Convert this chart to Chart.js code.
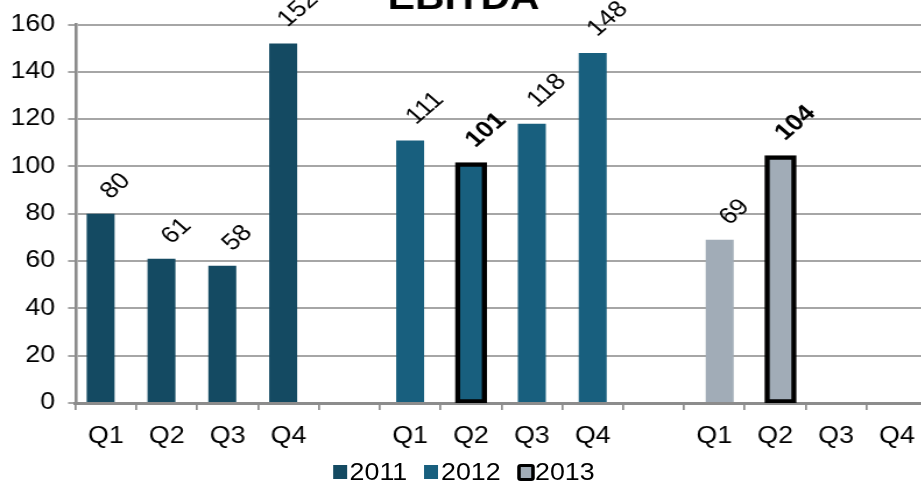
<!DOCTYPE html>
<html>
<head>
<meta charset="utf-8">
<title>EBITDA</title>
<script src="https://cdn.jsdelivr.net/npm/chart.js@4.4.1/dist/chart.umd.min.js"></script>
<style>
  html, body { margin: 0; padding: 0; background: #fff; overflow: hidden; width: 921px; height: 483px; }
  /* source picture is stretched horizontally, so the whole drawing is stretched too */
  #wrap { position: absolute; left: 0; top: -30px; width: 803px; height: 513px; transform: scaleX(1.165); transform-origin: 0 0; }
  #chart { position: absolute; left: 0; top: 0; }
  #legend { position: absolute; left: 0; top: 488px; width: 796px; display: flex; justify-content: center; align-items: center;
            font: 23px 'Liberation Sans', Arial, sans-serif; line-height: 28px; color: #000; }
  .item { display: flex; align-items: center; margin-left: 14.5px; }
  .item:first-child { margin-left: 0; }
  .box { width: 12px; height: 14px; margin-right: 2.5px; box-sizing: border-box; }
  .box.outlined { width: 14.5px; height: 17px; border: 3px solid #000; border-radius: 3px; margin-right: 0.5px; }
</style>
</head>
<body>
<div id="wrap">
  <canvas id="chart" width="803" height="491"></canvas>
  <div id="legend"></div>
</div>
<script>
// data
const quarters = ['Q1', 'Q2', 'Q3', 'Q4'];
const years = ['2011', '2012', '2013'];
const ebitda2011 = [80, 61, 58, 152];
const ebitda2012 = [111, 101, 118, 148];
const ebitda2013 = [69, 104, null, null];
const yTicks = [0, 20, 40, 60, 80, 100, 120, 140, 160];
// quarter drawn with the heavy black outline and bold label, per year
const outlinedQuarter = { '2012': 1, '2013': 1 };

const seriesValues = [ebitda2011, ebitda2012, ebitda2013];
const seriesColors = ['#144a62', '#185f7e', '#a1acb7'];
const fontFamily = "'Liberation Sans', Arial, sans-serif";
const stretch = 1.165;

// each year takes 4 quarter slots plus one empty slot
var categories = [];
years.forEach(function (y, yi) {
    quarters.forEach(function (q) { categories.push(q); });
    if (yi < years.length - 1) categories.push('');
});

function spread(vals, yi) {
    var out = categories.map(function () { return null; });
    vals.forEach(function (v, q) { out[yi * 5 + q] = v; });
    return out;
}

function isOutlined(di, index) {
    var q = outlinedQuarter[years[di]];
    return q !== undefined && index === di * 5 + q;
}

var datasets = years.map(function (y, di) {
    return {
        label: y,
        data: spread(seriesValues[di], di),
        backgroundColor: seriesColors[di],
        borderColor: '#000',
        borderSkipped: false,
        borderWidth: function (c) { return isOutlined(di, c.dataIndex) ? 4.5 : 0; },
        inflateAmount: function (c) { return isOutlined(di, c.dataIndex) ? 1.8 : 0; }
    };
});

// rotated value labels above bars
var barLabels = {
    id: 'barLabels',
    afterDatasetsDraw: function (chart) {
        var ctx = chart.ctx;
        chart.data.datasets.forEach(function (ds, di) {
            var meta = chart.getDatasetMeta(di);
            meta.data.forEach(function (bar, i) {
                var v = ds.data[i];
                if (v === null || v === undefined) return;
                var txt = String(v);
                ctx.save();
                ctx.font = (isOutlined(di, i) ? 'bold ' : '') + '23px ' + fontFamily;
                var w = ctx.measureText(txt).width * stretch;
                var cx = bar.x + 15 / stretch;
                var cy = bar.y - (15 + w * 0.42);
                ctx.translate(cx, cy);
                ctx.rotate(-Math.PI / 4);
                ctx.textAlign = 'center';
                ctx.textBaseline = 'middle';
                ctx.fillStyle = '#000';
                ctx.fillText(txt, 0, 0);
                ctx.restore();
            });
        });
    }
};

var ctx = document.getElementById('chart');
var chart = new Chart(ctx, {
    type: 'bar',
    data: { labels: categories, datasets: datasets },
    options: {
        responsive: false,
        animation: false,
        devicePixelRatio: 1,
        categoryPercentage: 0.2615,
        barPercentage: 5.27,
        layout: { padding: { left: 0, right: 7, top: 0, bottom: 0 } },
        plugins: {
            legend: { display: false },
            tooltip: { enabled: false },
            title: {
                display: true,
                text: 'EBITDA',
                color: '#000',
                font: { family: fontFamily, size: 35, weight: 'bold' },
                padding: { top: 8.5, bottom: 4 }
            }
        },
        scales: {
            x: {
                grid: { drawOnChartArea: false, drawTicks: true, tickLength: 7, color: '#8c8c8c', lineWidth: 1.7, offset: true },
                border: { color: '#8c8c8c', width: 3 },
                ticks: { color: '#000', font: { family: fontFamily, size: 23 }, padding: 12.5, maxRotation: 0, autoSkip: false },
                afterFit: function (s) { s.height = 58; }
            },
            y: {
                min: yTicks[0],
                max: yTicks[yTicks.length - 1],
                afterBuildTicks: function (s) { s.ticks = yTicks.map(function (v) { return { value: v }; }); },
                ticks: { color: '#000', font: { family: fontFamily, size: 23 }, padding: 11 },
                grid: { color: '#a6a6a6', lineWidth: 2, tickLength: 6.4 },
                border: { color: '#8c8c8c', width: 2.6 },
                afterFit: function (s) { s.width = 64.8; }
            }
        }
    },
    plugins: [barLabels]
});

// legend
var legendEl = document.getElementById('legend');
years.forEach(function (y, di) {
    var item = document.createElement('div');
    item.className = 'item';
    var box = document.createElement('span');
    box.className = 'box' + (outlinedQuarter[y] !== undefined && di === 2 ? ' outlined' : '');
    box.style.background = seriesColors[di];
    var label = document.createElement('span');
    label.textContent = y;
    item.appendChild(box);
    item.appendChild(label);
    legendEl.appendChild(item);
});
</script>
</body>
</html>
